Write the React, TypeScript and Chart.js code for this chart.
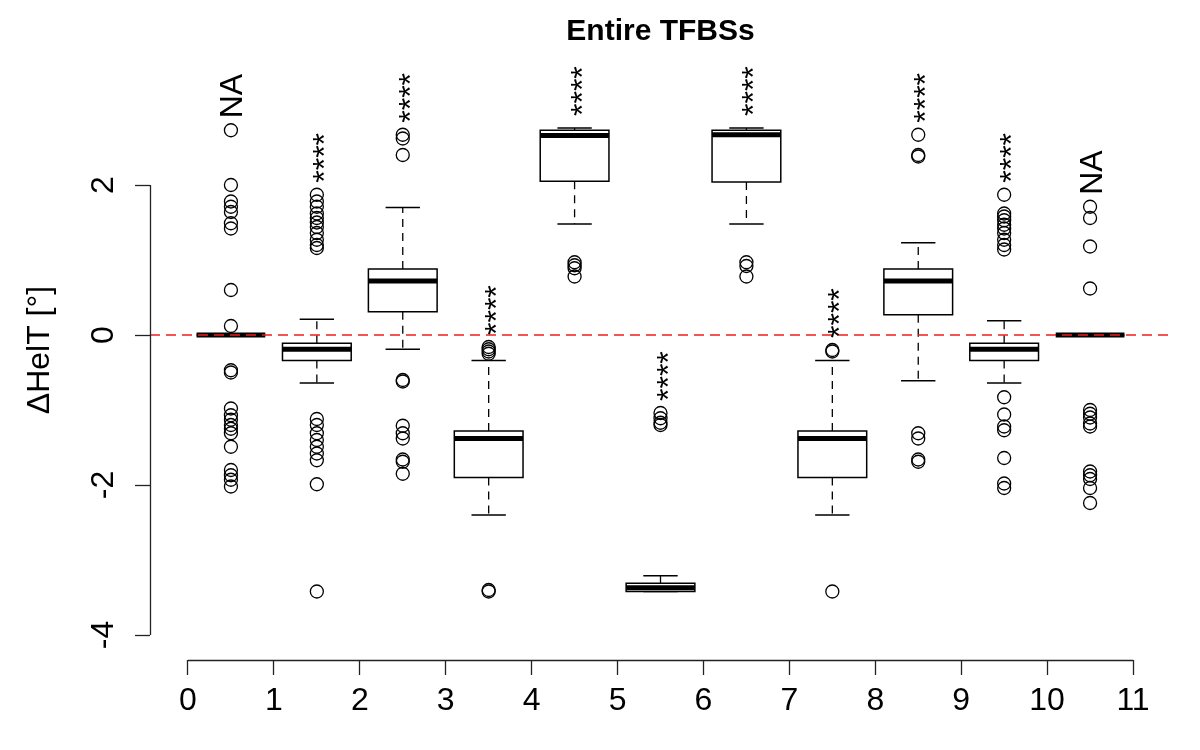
import React, { useEffect, useRef } from "react";
import { Chart, registerables } from "chart.js";

Chart.register(...registerables);

const FONT = "'Liberation Sans', Arial, Helvetica, sans-serif";

const titleText = "Entire TFBSs";
const yAxisLabel = "ΔHelT [°]";

const xTicks = [0, 1, 2, 3, 4, 5, 6, 7, 8, 9, 10, 11];
const yTicks = [-4, -2, 0, 2];
const yTickLabels = ["-4", "-2", "0", "2"];

const boxX = [0.5, 1.5, 2.5, 3.5, 4.5, 5.5, 6.5, 7.5, 8.5, 9.5, 10.5];
const whiskerLow = [0, -0.64, -0.19, -2.4, 1.48, -3.42, 1.48, -2.4, -0.61, -0.64, 0];
const q1 = [0, -0.34, 0.31, -1.9, 2.05, -3.42, 2.04, -1.9, 0.27, -0.34, 0];
const median = [0, -0.19, 0.72, -1.38, 2.66, -3.37, 2.67, -1.38, 0.72, -0.19, 0];
const q3 = [0, -0.11, 0.88, -1.28, 2.73, -3.31, 2.73, -1.28, 0.88, -0.11, 0];
const whiskerHigh = [0, 0.21, 1.7, -0.34, 2.76, -3.21, 2.76, -0.34, 1.23, 0.19, 0];

const outliers0 = [2.73, 2.0, 1.78, 1.71, 1.64, 1.49, 1.42, 0.6, 0.12, -0.47, -0.5, -0.98, -1.07, -1.13, -1.2, -1.25, -1.31, -1.49, -1.8, -1.87, -1.93, -2.02];
const outliers1 = [1.87, 1.78, 1.71, 1.62, 1.56, 1.5, 1.44, 1.36, 1.27, 1.2, 1.16, -1.12, -1.2, -1.31, -1.4, -1.49, -1.58, -1.67, -1.99, -3.42];
const outliers2 = [2.67, 2.62, 2.4, -0.6, -0.62, -1.21, -1.31, -1.38, -1.66, -1.69, -1.85];
const outliers3 = [-0.16, -0.19, -0.22, -0.25, -3.4, -3.42];
const outliers4 = [0.97, 0.93, 0.89, 0.78];
const outliers5 = [-1.04, -1.11, -1.17, -1.2];
const outliers6 = [0.97, 0.92, 0.78];
const outliers7 = [-0.2, -0.22, -3.42];
const outliers8 = [2.67, 2.4, 2.38, -1.31, -1.38, -1.66, -1.69];
const outliers9 = [1.87, 1.62, 1.58, 1.53, 1.47, 1.42, 1.36, 1.27, 1.2, 1.14, -0.83, -1.06, -1.22, -1.27, -1.64, -1.98, -2.04];
const outliers10 = [1.71, 1.56, 1.18, 0.62, -1.0, -1.05, -1.1, -1.18, -1.22, -1.82, -1.87, -1.92, -2.04, -2.24];

const outlierGroups = [outliers0, outliers1, outliers2, outliers3, outliers4, outliers5, outliers6, outliers7, outliers8, outliers9, outliers10];

const annotations = ["NA", "****", "****", "****", "****", "****", "****", "****", "****", "****", "NA"];

const BOX_HALF = 0.4;
const CAP_HALF = 0.2;

export default function App() {
  const ref = useRef<HTMLCanvasElement | null>(null);

  useEffect(() => {
    const canvas = ref.current;
    if (!canvas) return;

    const points = outlierGroups.flatMap((arr, i) => arr.map((v) => ({ x: boxX[i], y: v })));

    const boxPlugin = {
      id: "boxplotDraw",
      beforeDatasetsDraw(chart: any) {
        const ctx = chart.ctx;
        const xs = chart.scales.x;
        const ys = chart.scales.y;
        ctx.save();
        ctx.strokeStyle = "#000";
        for (let i = 0; i < boxX.length; i++) {
          const cx = xs.getPixelForValue(boxX[i]);
          const l = xs.getPixelForValue(boxX[i] - BOX_HALF);
          const r = xs.getPixelForValue(boxX[i] + BOX_HALF);
          const cl = xs.getPixelForValue(boxX[i] - CAP_HALF);
          const cr = xs.getPixelForValue(boxX[i] + CAP_HALF);
          const yLo = ys.getPixelForValue(whiskerLow[i]);
          const yQ1 = ys.getPixelForValue(q1[i]);
          const yMed = ys.getPixelForValue(median[i]);
          const yQ3 = ys.getPixelForValue(q3[i]);
          const yHi = ys.getPixelForValue(whiskerHigh[i]);
          ctx.lineWidth = 1.3;
          ctx.setLineDash([8, 6]);
          ctx.beginPath();
          ctx.moveTo(cx, yQ3);
          ctx.lineTo(cx, yHi);
          ctx.moveTo(cx, yQ1);
          ctx.lineTo(cx, yLo);
          ctx.stroke();
          ctx.setLineDash([]);
          ctx.beginPath();
          ctx.moveTo(cl, yHi);
          ctx.lineTo(cr, yHi);
          ctx.moveTo(cl, yLo);
          ctx.lineTo(cr, yLo);
          ctx.stroke();
          ctx.fillStyle = "#fff";
          ctx.fillRect(l, yQ3, r - l, yQ1 - yQ3);
          ctx.lineWidth = 1.5;
          ctx.strokeRect(l, yQ3, r - l, yQ1 - yQ3);
          ctx.lineWidth = 5;
          ctx.lineCap = "butt";
          ctx.beginPath();
          ctx.moveTo(l, yMed);
          ctx.lineTo(r, yMed);
          ctx.stroke();
        }
        ctx.restore();
      },
      afterDatasetsDraw(chart: any) {
        const ctx = chart.ctx;
        const xs = chart.scales.x;
        const ys = chart.scales.y;
        const area = chart.chartArea;
        ctx.save();
        const y0 = ys.getPixelForValue(0);
        ctx.strokeStyle = "#ee1c1c";
        ctx.lineWidth = 1.4;
        ctx.setLineDash([10, 6]);
        ctx.beginPath();
        ctx.moveTo(area.left, y0);
        ctx.lineTo(area.right, y0);
        ctx.stroke();
        ctx.setLineDash([]);

        ctx.strokeStyle = "#222";
        ctx.lineWidth = 1.3;
        ctx.beginPath();
        const ax = Math.round(area.left) + 0.5;
        ctx.moveTo(ax, ys.getPixelForValue(yTicks[0]));
        ctx.lineTo(ax, ys.getPixelForValue(yTicks[yTicks.length - 1]));
        const ay = Math.round(area.bottom) + 0.5;
        ctx.moveTo(xs.getPixelForValue(xTicks[0]), ay);
        ctx.lineTo(xs.getPixelForValue(xTicks[xTicks.length - 1]), ay);
        ctx.stroke();

        // title, centred over the plot region
        ctx.fillStyle = "#000";
        ctx.font = `bold 30px ${FONT}`;
        ctx.textAlign = "center";
        ctx.textBaseline = "middle";
        ctx.fillText(titleText, (area.left + area.right) / 2, 32);

        ctx.font = `32px ${FONT}`;
        ctx.textAlign = "center";
        ctx.textBaseline = "alphabetic";
        for (let i = 0; i < yTicks.length; i++) {
          const py = ys.getPixelForValue(yTicks[i]);
          ctx.save();
          ctx.translate(area.left - 37, py);
          ctx.rotate(-Math.PI / 2);
          ctx.fillText(yTickLabels[i], 0, 0);
          ctx.restore();
        }

        ctx.save();
        ctx.translate(49, (area.top + area.bottom) / 2 - 10);
        ctx.rotate(-Math.PI / 2);
        ctx.fillText(yAxisLabel, 0, 0);
        ctx.restore();

        ctx.textAlign = "left";
        for (let i = 0; i < boxX.length; i++) {
          const top = Math.max(whiskerHigh[i], ...outlierGroups[i]);
          const cx = xs.getPixelForValue(boxX[i]);
          const py = ys.getPixelForValue(top) - 12;
          const isStar = annotations[i].startsWith("*");
          ctx.save();
          ctx.translate(cx + (isStar ? 18 : 11.5), py);
          ctx.rotate(-Math.PI / 2);
          ctx.fillText(annotations[i], 0, 0);
          ctx.restore();
        }
        ctx.restore();
      },
    };

    const chart = new Chart(canvas, {
      type: "scatter",
      data: {
        datasets: [
          {
            data: points,
            pointStyle: "circle",
            pointRadius: 6.5,
            pointHoverRadius: 6.5,
            pointBorderWidth: 1.3,
            pointBorderColor: "#000",
            pointBackgroundColor: "rgba(0,0,0,0)",
            showLine: false,
          } as any,
        ],
      },
      options: {
        responsive: false,
        devicePixelRatio: 1,
        animation: false,
        events: [],
        layout: { padding: { left: 0, right: 29, top: 60, bottom: 0 } },
        plugins: {
          legend: { display: false },
          tooltip: { enabled: false },
          title: { display: false },
        },
        scales: {
          x: {
            type: "linear",
            position: "bottom",
            min: -0.442,
            max: 11.442,
            afterFit: (s: any) => {
              s.height = 90;
            },
            afterBuildTicks: (s: any) => {
              s.ticks = xTicks.map((v) => ({ value: v }));
            },
            border: { display: false },
            grid: {
              display: true,
              drawOnChartArea: false,
              drawTicks: true,
              tickLength: 15,
              tickColor: "#222",
              tickWidth: 1.3,
            },
            ticks: {
              autoSkip: false,
              maxRotation: 0,
              minRotation: 0,
              padding: 7,
              color: "#000",
              font: { family: FONT, size: 32 },
              callback: (v: any) => String(v),
            },
          },
          y: {
            type: "linear",
            position: "left",
            min: -4.3333,
            max: 3.6667,
            afterFit: (s: any) => {
              s.width = 150;
            },
            afterBuildTicks: (s: any) => {
              s.ticks = yTicks.map((v) => ({ value: v }));
            },
            border: { display: false },
            grid: {
              display: true,
              drawOnChartArea: false,
              drawTicks: true,
              tickLength: 15,
              tickColor: "#222",
              tickWidth: 1.3,
            },
            ticks: { display: false },
          },
        },
      },
      plugins: [boxPlugin],
    });

    return () => chart.destroy();
  }, []);

  return (
    <div style={{ position: "fixed", left: 0, top: 0, width: 1200, height: 750, background: "#fff" }}>
      <canvas ref={ref} width={1200} height={750} style={{ display: "block", width: 1200, height: 750 }} />
    </div>
  );
}
